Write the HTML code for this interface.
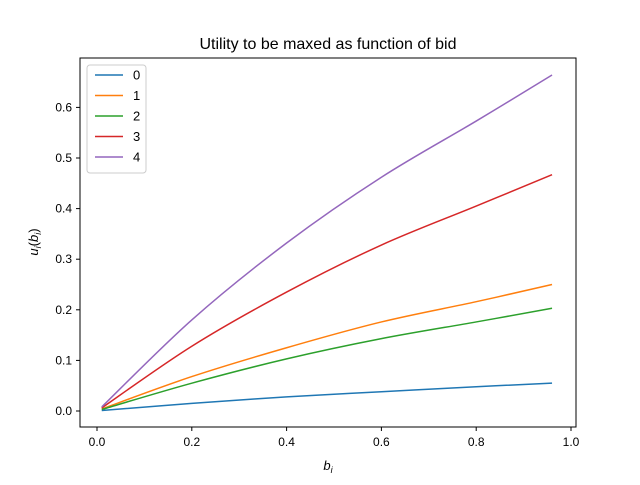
<!DOCTYPE html>
<html><head><meta charset="utf-8"><style>
body{margin:0;background:#fff}
svg{font-family:"Liberation Sans","DejaVu Sans",sans-serif}
</style></head><body>
<svg id="chart" width="640" height="480">
<rect width="640" height="480" fill="#fff"/>
<text x="328" y="49" font-size="16" text-anchor="middle">Utility to be maxed as function of bid</text>
<g id="plot"></g>
<rect x="80" y="58" width="496" height="369" fill="none" stroke="#000" stroke-width="1"/>
<text x="328" y="470" font-size="13" text-anchor="middle" font-style="italic">b<tspan font-size="9" dy="3">i</tspan></text>
<text transform="translate(38,242) rotate(-90)" font-size="13" text-anchor="middle"><tspan font-style="italic">u</tspan><tspan font-size="9" dy="3" font-style="italic">i</tspan><tspan dy="-3">(</tspan><tspan font-style="italic">b</tspan><tspan font-size="9" dy="3" font-style="italic">i</tspan><tspan dy="-3">)</tspan></text>
</svg>
<script>
const xs = [0.01, 0.2, 0.4, 0.6, 0.8, 0.96];
const s0 = [0.001, 0.015, 0.028, 0.038, 0.048, 0.055];
const s1 = [0.004, 0.068, 0.125, 0.176, 0.216, 0.25];
const s2 = [0.003, 0.055, 0.103, 0.143, 0.176, 0.203];
const s3 = [0.006, 0.128, 0.235, 0.328, 0.405, 0.467];
const s4 = [0.008, 0.18, 0.332, 0.462, 0.573, 0.664];
const seriesNames = ["0","1","2","3","4"];
const colors = ["#1f77b4","#ff7f0e","#2ca02c","#d62728","#9467bd"];
const xTicks = [0.0,0.2,0.4,0.6,0.8,1.0];
const yTicks = [0.0,0.1,0.2,0.3,0.4,0.5,0.6];

const X = v => 97 + v*474;
const Y = v => 411 - v*506;
const NS="http://www.w3.org/2000/svg";
const g=document.getElementById('plot');
function mk(t,a){const e=document.createElementNS(NS,t);for(const k in a)e.setAttribute(k,a[k]);g.appendChild(e);return e;}
xTicks.forEach(t=>{
  const l=mk('line',{x1:X(t),x2:X(t),y1:427,y2:431,stroke:'#000'});
  
  
  const tx=mk('text',{x:X(t),y:446,'font-size':12,'text-anchor':'middle'});tx.textContent=t.toFixed(1);
  
  
});
yTicks.forEach(t=>{
  const l=mk('line',{x1:76,x2:80,y1:Y(t),y2:Y(t),stroke:'#000'});
  
  
  const tx=mk('text',{x:72,y:Y(t)+4,'font-size':12,'text-anchor':'end'});tx.textContent=t.toFixed(1);
  
  
});
[s0,s1,s2,s3,s4].forEach((s,i)=>{
  let d='';
  for(let j=0;j<xs.length;j++){
    const x=X(xs[j]),y=Y(s[j]);
    if(j===0)d='M'+x+','+y;
    else{const px=X(xs[j-1]),py=Y(s[j-1]);
      const nx=j+1<xs.length?X(xs[j+1]):x,ny=j+1<xs.length?Y(s[j+1]):y;
      const ppx=j>1?X(xs[j-2]):px,ppy=j>1?Y(s[j-2]):py;
      d+=' C'+(px+(x-ppx)/6)+','+(py+(y-ppy)/6)+' '+(x-(nx-px)/6)+','+(y-(ny-py)/6)+' '+x+','+y;}
  }
  const p=mk('path',{d:d,fill:'none',stroke:colors[i],'stroke-width':1.5});
  
  
});
const lg=mk('rect',{x:87,y:65,width:59,height:108,fill:'#fff',stroke:'#ccc',rx:3});


seriesNames.forEach((n,i)=>{
  const y=75+i*20.5;
  const l=mk('line',{x1:95,x2:123,y1:y,y2:y,stroke:colors[i],'stroke-width':1.5});
  
  
  const t=mk('text',{x:133,y:y+4.5,'font-size':13});t.textContent=n;
  
  
});
</script>
</body></html>
